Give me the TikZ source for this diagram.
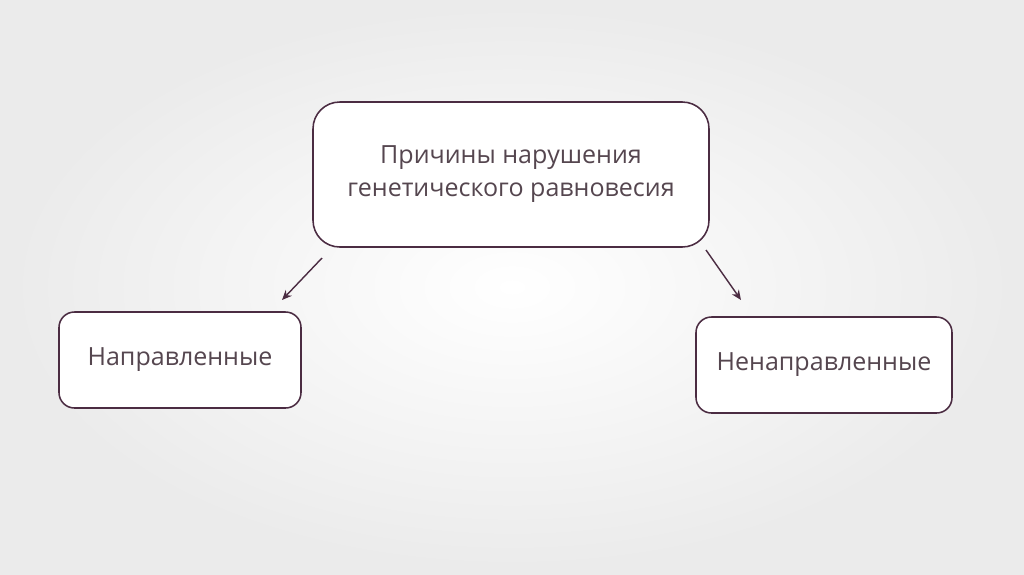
\documentclass[tikz,border=0pt]{standalone}
\usepackage{fontspec}
\setmainfont{Open Sans}
\usepackage{xcolor}
\usetikzlibrary{positioning, arrows.meta, calc}
\definecolor{plum}{HTML}{4B2C42}
\definecolor{plumtext}{HTML}{55464F}
\tikzset{
  causebox/.style={
    draw=plum, fill=white, line width=1.1pt, rounded corners=#1,
    align=center, text=plumtext, font=\fontsize{17.8}{23.5}\selectfont
  },
  arrow/.style={-{Stealth[length=7pt, width=6pt]}, draw=plum, line width=1pt}
}

\begin{document}
\begin{tikzpicture}[x=0.025cm, y=-0.025cm]
%% Background
\shade[inner color=white, outer color=black!8] (0,0) rectangle (1024,574);
\useasboundingbox (0,0) rectangle (1024,574);

%% Boxes
\node[causebox=19pt, minimum width=396*0.025cm, minimum height=145*0.025cm]
  (causes) at (511,174.5) {Причины нарушения\\генетического равновесия};
\node[causebox=11pt, minimum width=242*0.025cm, minimum height=96*0.025cm]
  (directed) at (180,360) {Направленные};
\node[causebox=11pt, minimum width=256*0.025cm, minimum height=96*0.025cm]
  (undirected) at (824,365) {Ненаправленные};

%% Arrows
\coordinate (lstart) at (322,258);
\coordinate (lend) at (282,300);
\coordinate (rstart) at (706,250);
\coordinate (rend) at (741,300);
\draw[arrow] (lstart) -- (lend);
\draw[arrow] (rstart) -- (rend);
\end{tikzpicture}
\end{document}
